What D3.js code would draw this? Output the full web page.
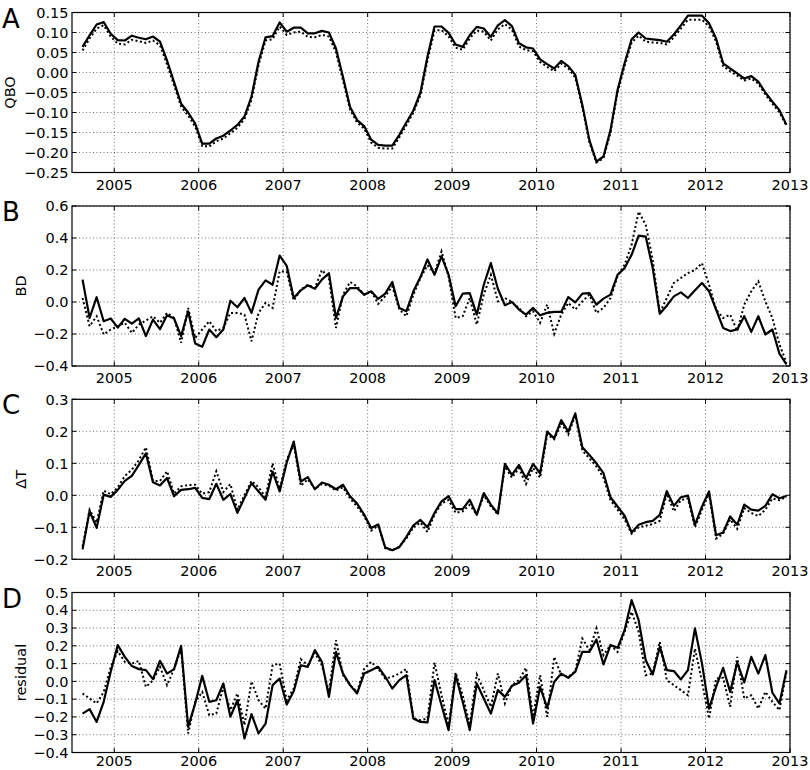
<!DOCTYPE html>
<html>
<head>
<meta charset="utf-8">
<script src="https://cdn.jsdelivr.net/npm/d3@7/dist/d3.min.js"></script>
<style>
  html, body { margin: 0; padding: 0; background: #fff; }
  svg { display: block; }
  text { font-family: "DejaVu Sans", sans-serif; fill: #000; }
</style>
</head>
<body>
<svg id="chart" width="810" height="770"></svg>
<script>
// ---- Data: monthly values, Aug 2004 .. Dec 2012 (101 months) ----
const firstYear = 2004, firstMonth = 8, monthCount = 101;
const yearTicks = [2005, 2006, 2007, 2008, 2009, 2010, 2011, 2012, 2013];

const panelLetters = ["A", "B", "C", "D"];
const yLabels = ["QBO", "BD", "\u0394T", "residual"];
const yTicksA = [-0.25, -0.20, -0.15, -0.10, -0.05, 0.00, 0.05, 0.10, 0.15];
const yTicksB = [-0.4, -0.2, 0.0, 0.2, 0.4, 0.6];
const yTicksC = [-0.2, -0.1, 0.0, 0.1, 0.2, 0.3];
const yTicksD = [-0.4, -0.3, -0.2, -0.1, 0.0, 0.1, 0.2, 0.3, 0.4, 0.5];

const qboSolid = [
  0.064, 0.093, 0.12, 0.126, 0.097, 0.081, 0.08, 0.092, 0.087, 0.083,
  0.09, 0.077, 0.03, -0.024, -0.078, -0.1, -0.128, -0.178, -0.178, -0.165,
  -0.158, -0.145, -0.131, -0.11, -0.06, 0.027, 0.088, 0.091, 0.125, 0.102,
  0.112, 0.112, 0.098, 0.098, 0.104, 0.1, 0.06, -0.011, -0.086, -0.119,
  -0.134, -0.168, -0.181, -0.183, -0.183, -0.156, -0.125, -0.095, -0.05, 0.04,
  0.115, 0.115, 0.099, 0.07, 0.064, 0.093, 0.114, 0.11, 0.089, 0.118,
  0.131, 0.116, 0.073, 0.063, 0.06, 0.033, 0.021, 0.01, 0.029, 0.016,
  -0.006, -0.081, -0.169, -0.223, -0.21, -0.144, -0.044, 0.023, 0.083, 0.1,
  0.085, 0.083, 0.081, 0.077, 0.095, 0.118, 0.142, 0.142, 0.142, 0.123,
  0.085, 0.023, 0.01, -0.002, -0.015, -0.009, -0.023, -0.05, -0.073, -0.094,
  -0.131
];
const qboDotted = [
  0.055, 0.085, 0.11, 0.118, 0.09, 0.072, 0.07, 0.082, 0.078, 0.074,
  0.08, 0.068, 0.02, -0.032, -0.085, -0.108, -0.135, -0.184, -0.185, -0.172,
  -0.165, -0.152, -0.138, -0.116, -0.068, 0.018, 0.08, 0.083, 0.115, 0.094,
  0.1, 0.102, 0.089, 0.088, 0.094, 0.09, 0.05, -0.02, -0.093, -0.125,
  -0.14, -0.175, -0.188, -0.19, -0.19, -0.162, -0.132, -0.1, -0.057, 0.03,
  0.105, 0.106, 0.09, 0.062, 0.057, 0.085, 0.105, 0.102, 0.08, 0.108,
  0.121, 0.107, 0.065, 0.056, 0.053, 0.026, 0.014, 0.003, 0.022, 0.01,
  -0.013, -0.087, -0.175, -0.225, -0.215, -0.15, -0.05, 0.016, 0.075, 0.092,
  0.077, 0.075, 0.074, 0.07, 0.088, 0.11, 0.132, 0.132, 0.132, 0.115,
  0.077, 0.016, 0.003, -0.008, -0.02, -0.015, -0.028, -0.055, -0.078, -0.1,
  -0.134
];
const bdSolid = [
  0.14, -0.1, 0.03, -0.12, -0.103, -0.16, -0.105, -0.135, -0.103, -0.213,
  -0.11, -0.17, -0.083, -0.103, -0.213, -0.058, -0.26, -0.28, -0.172, -0.22,
  -0.172, 0.008, -0.033, 0.025, -0.068, 0.077, 0.135, 0.108, 0.29, 0.226,
  0.025, 0.073, 0.104, 0.083, 0.14, 0.18, -0.1, 0.035, 0.087, 0.087,
  0.046, 0.067, 0.019, 0.052, 0.125, -0.037, -0.058, 0.067, 0.156, 0.266,
  0.17, 0.285, 0.17, -0.027, 0.052, 0.056, -0.079, 0.108, 0.243, 0.083,
  -0.02, 0.0, -0.047, -0.079, -0.037, -0.083, -0.068, -0.062, -0.062, 0.031,
  -0.002, 0.052, 0.056, -0.016, 0.021, 0.046, 0.17, 0.212, 0.295, 0.415,
  0.409, 0.212, -0.074, -0.023, 0.035, 0.06, 0.025, 0.073, 0.119, 0.067,
  -0.047, -0.162, -0.182, -0.172, -0.089, -0.187, -0.089, -0.203, -0.172, -0.323,
  -0.39
];
const bdDotted = [
  0.025, -0.151, -0.089, -0.203, -0.172, -0.151, -0.13, -0.193, -0.141, -0.116,
  -0.089, -0.13, -0.068, -0.1, -0.255, -0.037, -0.224, -0.172, -0.12, -0.182,
  -0.162, -0.068, -0.068, -0.079, -0.245, -0.068, -0.006, -0.037, 0.191, 0.191,
  0.009, 0.077, 0.108, 0.087, 0.2, 0.15, -0.162, 0.046, 0.125, 0.098,
  0.046, 0.067, -0.012, 0.036, 0.098, -0.047, -0.089, 0.046, 0.15, 0.23,
  0.181, 0.316, 0.16, -0.1, -0.089, 0.025, -0.141, 0.046, 0.17, 0.004,
  0.025, 0.0, -0.037, -0.089, -0.058, -0.13, -0.016, -0.199, -0.079, -0.006,
  -0.047, 0.004, 0.046, -0.068, -0.037, 0.025, 0.16, 0.233, 0.357, 0.565,
  0.482, 0.264, -0.068, 0.025, 0.119, 0.15, 0.181, 0.2, 0.243, 0.108,
  -0.047, -0.1, -0.079, -0.182, -0.016, 0.067, 0.129, 0.004, -0.1, -0.265,
  -0.379
];
const dtSolid = [
  -0.169, -0.05, -0.102, 0.002, -0.005, 0.017, 0.045, 0.061, 0.095, 0.131,
  0.041, 0.031, 0.054, -0.003, 0.017, 0.019, 0.023, -0.008, -0.012, 0.036,
  -0.014, 0.004, -0.055, -0.008, 0.038, 0.012, -0.014, 0.074, 0.012, 0.102,
  0.168, 0.043, 0.057, 0.019, 0.04, 0.033, 0.019, 0.033, -0.003, -0.026,
  -0.06, -0.102, -0.091, -0.163, -0.172, -0.162, -0.13, -0.094, -0.077, -0.1,
  -0.055, -0.019, -0.003, -0.043, -0.043, -0.014, -0.061, 0.007, -0.029, -0.057,
  0.098, 0.064, 0.095, 0.053, 0.098, 0.069, 0.199, 0.178, 0.235, 0.199,
  0.256, 0.15, 0.126, 0.1, 0.069, -0.006, -0.035, -0.064, -0.116, -0.092,
  -0.084, -0.08, -0.061, 0.013, -0.033, -0.006, -0.001, -0.092, -0.035, 0.012,
  -0.125, -0.116, -0.066, -0.092, -0.029, -0.045, -0.048, -0.033, 0.003, -0.009,
  -0.002
];
const dtDotted = [
  -0.16, -0.045, -0.085, 0.015, 0.003, 0.025, 0.06, 0.08, 0.11, 0.15,
  0.045, 0.045, 0.075, 0.005, 0.028, 0.032, 0.033, 0.005, 0.01, 0.075,
  0.01, 0.035, -0.045, 0.0, 0.045, 0.025, -0.005, 0.1, 0.02, 0.11,
  0.16, 0.03, 0.05, 0.02, 0.035, 0.03, 0.015, 0.025, -0.01, -0.035,
  -0.065, -0.11, -0.095, -0.165, -0.172, -0.16, -0.135, -0.1, -0.085, -0.115,
  -0.06, -0.025, -0.015, -0.055, -0.05, -0.03, -0.06, 0.0, -0.035, -0.06,
  0.09, 0.055, 0.085, 0.035, 0.085, 0.055, 0.19, 0.175, 0.225, 0.19,
  0.25, 0.14, 0.115, 0.09, 0.055, -0.015, -0.045, -0.075, -0.12, -0.1,
  -0.095, -0.09, -0.08, 0.005, -0.05, -0.015, -0.01, -0.1, -0.045, 0.005,
  -0.135, -0.12, -0.075, -0.105, -0.04, -0.055, -0.065, -0.045, -0.01, -0.015,
  -0.005
];
const resSolid = [
  -0.181, -0.156, -0.228, -0.115, 0.054, 0.204, 0.138, 0.086, 0.069, 0.063,
  0.013, 0.116, 0.044, 0.069, 0.2, -0.256, -0.124, 0.031, -0.115, -0.106,
  -0.012, -0.199, -0.106, -0.321, -0.184, -0.293, -0.237, -0.021, 0.016, -0.13,
  -0.055, 0.091, 0.082, 0.176, 0.11, -0.087, 0.166, 0.044, -0.021, -0.068,
  0.044, 0.063, 0.082, 0.026, -0.04, 0.007, 0.035, -0.209, -0.228, -0.231,
  0.007, -0.134, -0.274, 0.035, -0.115, -0.274, -0.012, -0.096, -0.181, -0.049,
  -0.087, -0.025, -0.008, 0.035, -0.237, -0.031, -0.149, -0.003, 0.044, 0.02,
  0.054, 0.166, 0.166, 0.236, 0.095, 0.204, 0.189, 0.288, 0.457, 0.344,
  0.119, 0.039, 0.194, 0.063, 0.058, 0.011, 0.063, 0.298, 0.1, -0.153,
  -0.031, 0.076, -0.059, 0.106, -0.006, 0.138, 0.044, 0.148, -0.064, -0.124,
  0.063
];
const resDotted = [
  -0.068, -0.096, -0.124, -0.06, 0.08, 0.17, 0.11, 0.1, 0.115, -0.031,
  0.006, 0.082, -0.021, 0.07, 0.185, -0.293, -0.115, -0.059, -0.19, -0.181,
  -0.03, -0.162, -0.068, -0.246, 0.0, -0.106, -0.153, 0.091, 0.1, -0.106,
  -0.04, 0.125, 0.09, 0.16, 0.09, -0.059, 0.232, 0.035, -0.02, -0.059,
  0.07, 0.11, 0.07, 0.016, 0.026, 0.044, 0.07, -0.209, -0.218, -0.209,
  0.106, -0.078, -0.246, 0.05, -0.078, -0.246, 0.039, -0.049, -0.143, 0.044,
  -0.124, -0.021, 0.007, 0.076, -0.199, 0.035, -0.199, 0.138, 0.035, 0.026,
  0.058, 0.241, 0.176, 0.298, 0.148, 0.204, 0.166, 0.279, 0.391, 0.279,
  0.035, 0.044, 0.223, 0.007, -0.021, -0.049, -0.078, 0.185, -0.003, -0.209,
  0.016, 0.02, -0.143, 0.138, -0.096, -0.078, -0.153, -0.059, -0.115, -0.162,
  0.054
];

// ---- Layout ----
const svg = d3.select("#chart");
const plotLeft = 72, plotRight = 790;
const panelTops = [12.5, 206, 399.3, 592.5];
const panelH = 160;
const fontSize = 14.5;

// decimal-year time for each month (mid-month)
const times = d3.range(monthCount).map(i => firstYear + (firstMonth - 1 + i + 0.5) / 12);

const x = d3.scaleLinear().domain([2004.5, 2013]).range([plotLeft, plotRight]);

const panels = [
  { solid: qboSolid, dotted: qboDotted, ticks: yTicksA, fmt: ".2f", labelX: 14.5 },
  { solid: bdSolid, dotted: bdDotted, ticks: yTicksB, fmt: ".1f", labelX: 26 },
  { solid: dtSolid, dotted: dtDotted, ticks: yTicksC, fmt: ".1f", labelX: 26 },
  { solid: resSolid, dotted: resDotted, ticks: yTicksD, fmt: ".1f", labelX: 26 }
];

const minus = s => s.replace("-", "\u2212");

panels.forEach((p, k) => {
  const top = panelTops[k], bottom = top + panelH;
  const y = d3.scaleLinear().domain(d3.extent(p.ticks)).range([bottom, top]);
  const g = svg.append("g");

  const clipId = "clip" + k;
  svg.append("defs").append("clipPath").attr("id", clipId)
    .append("rect").attr("x", plotLeft).attr("y", top)
    .attr("width", plotRight - plotLeft).attr("height", panelH);

  // grid
  g.append("g").selectAll("line.h").data(p.ticks).join("line")
    .attr("x1", plotLeft).attr("x2", plotRight)
    .attr("y1", d => y(d)).attr("y2", d => y(d))
    .attr("stroke", "#333").attr("stroke-width", 0.7)
    .attr("stroke-dasharray", "1,2.5");
  g.append("g").selectAll("line.v").data(yearTicks).join("line")
    .attr("x1", d => x(d)).attr("x2", d => x(d))
    .attr("y1", top).attr("y2", bottom)
    .attr("stroke", "#333").attr("stroke-width", 0.7)
    .attr("stroke-dasharray", "1,2.5");

  const line = d3.line().x((d, i) => x(times[i])).y(d => y(d));
  const lines = g.append("g").attr("clip-path", `url(#${clipId})`);
  lines.append("path").datum(p.dotted).attr("d", line)
    .attr("fill", "none").attr("stroke", "#000").attr("stroke-width", 2)
    .attr("stroke-dasharray", "2,2.5");
  lines.append("path").datum(p.solid).attr("d", line)
    .attr("fill", "none").attr("stroke", "#000").attr("stroke-width", 2.2)
    .attr("stroke-linejoin", "round");

  // frame
  g.append("rect").attr("x", plotLeft).attr("y", top)
    .attr("width", plotRight - plotLeft).attr("height", panelH)
    .attr("fill", "none").attr("stroke", "#000").attr("stroke-width", 1.2);

  // inward ticks
  const tl = 4.5;
  const yt = g.append("g").attr("stroke", "#000").attr("stroke-width", 1);
  p.ticks.forEach(t => {
    yt.append("line").attr("x1", plotLeft).attr("x2", plotLeft + tl).attr("y1", y(t)).attr("y2", y(t));
    yt.append("line").attr("x1", plotRight).attr("x2", plotRight - tl).attr("y1", y(t)).attr("y2", y(t));
  });
  yearTicks.forEach(t => {
    yt.append("line").attr("x1", x(t)).attr("x2", x(t)).attr("y1", bottom).attr("y2", bottom - tl);
    yt.append("line").attr("x1", x(t)).attr("x2", x(t)).attr("y1", top).attr("y2", top + tl);
  });

  // y tick labels
  const f = d3.format(p.fmt);
  g.append("g").selectAll("text").data(p.ticks).join("text")
    .attr("x", plotLeft - 3.5).attr("y", d => y(d))
    .attr("dy", "0.36em").attr("text-anchor", "end")
    .attr("font-size", fontSize)
    .text(d => minus(f(Math.abs(d) < 1e-9 ? 0 : d)));

  // x tick labels (kept inside the 770px canvas)
  const xLabelY = Math.min(bottom + 17, 766);
  g.append("g").selectAll("text").data(yearTicks).join("text")
    .attr("x", d => x(d)).attr("y", xLabelY)
    .attr("text-anchor", "middle").attr("font-size", fontSize)
    .text(d => d);

  // y label
  g.append("text")
    .attr("transform", `translate(${p.labelX},${(top + bottom) / 2}) rotate(-90)`)
    .attr("text-anchor", "middle").attr("font-size", fontSize)
    .text(yLabels[k]);

  // panel letter
  g.append("text").attr("x", 2).attr("y", top + 15)
    .attr("font-size", 26).text(panelLetters[k]);
});
</script>
</body>
</html>
